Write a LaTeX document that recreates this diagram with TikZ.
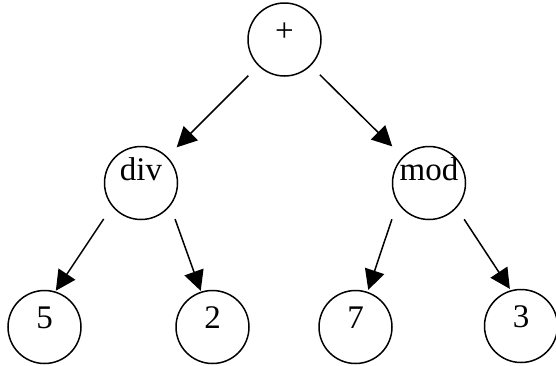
\documentclass[tikz,border=0pt]{standalone}
\usepackage{fontspec}
\setmainfont{Liberation Serif}
\usetikzlibrary{arrows.meta}
\tikzset{%
treenode/.style={circle, draw, line width=0.75pt, minimum size=36.5pt, inner sep=0pt, font=\fontsize{16.5}{20}\selectfont, text height=8pt, text depth=6.5pt},
opnode/.style={treenode, text height=6.5pt, text depth=9pt},
arr/.style={draw, line width=0.75pt, -{Triangle[length=10pt,width=10pt]}}
}

\begin{document}
\begin{tikzpicture}[x=0.5pt, y=-0.5pt]
	\useasboundingbox (0,0) rectangle (556,365);
	\node[treenode] (plus) at (284.5,39.5) {+};
	\node[opnode] (div) at (141,183) {div};
	\node[opnode] (mod) at (429,183) {mod};
	\node[treenode] (five) at (44.5,327) {5};
	\node[treenode] (two) at (212.5,327) {2};
	\node[treenode] (seven) at (355.5,327) {7};
	\node[treenode] (three) at (521,326) {3};

	\path (plus.225) edge [arr, shorten <=7pt, shorten >=6.6pt] (div.45);
	\path (plus.-45) edge [arr, shorten <=6.3pt, shorten >=7.3pt] (mod.135);
	\path (div.219) edge [arr, shorten <=7.5pt, shorten >=0.4pt] (five.73);
	\path (div.322) edge [arr, shorten <=7pt, shorten >=0.4pt] (two.108);
	\path (mod.212) edge [arr, shorten <=8.7pt, shorten >=1pt] (seven.71);
	\path (mod.318) edge [arr, shorten <=6.8pt, shorten >=0.8pt] (three.106);
\end{tikzpicture}
\end{document}
